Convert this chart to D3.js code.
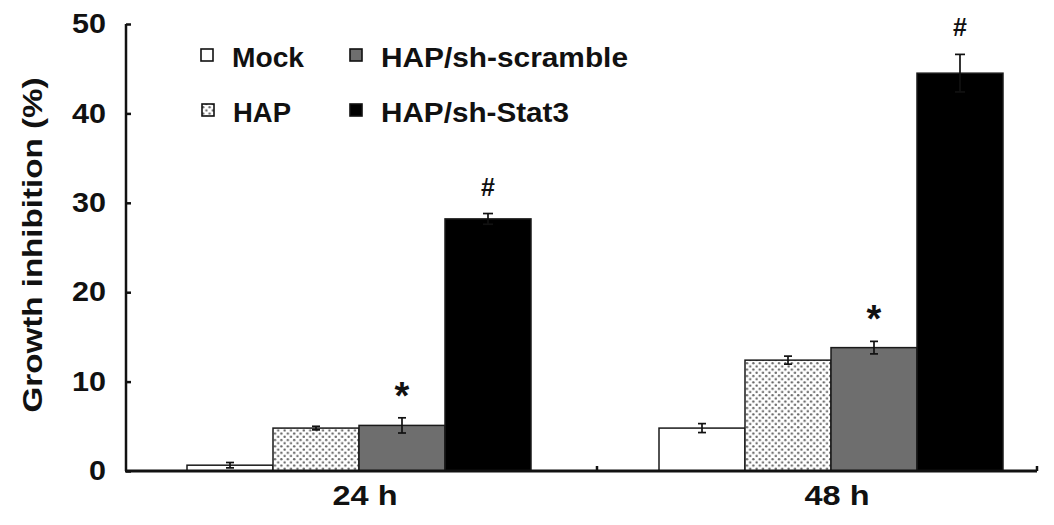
<!DOCTYPE html>
<html><head><meta charset="utf-8">
<script src="https://cdn.jsdelivr.net/npm/d3@7"></script>
<style>
html,body{margin:0;padding:0;background:#fff;overflow:hidden;}
svg{display:block;}
text{font-family:"Liberation Sans",Arial,sans-serif;font-weight:bold;fill:#111;}
</style></head>
<body>
<svg id="c" width="1054" height="525"></svg>
<script>
// ---- data ----
const categories = ["24 h", "48 h"];
const seriesNames = ["Mock", "HAP", "HAP/sh-scramble", "HAP/sh-Stat3"];
const mockValues = [0.65, 4.8];
const hapValues = [4.8, 12.4];
const scrambleValues = [5.1, 13.8];
const stat3Values = [28.2, 44.5];
const mockErr = [0.3, 0.5];
const hapErr = [0.2, 0.45];
const scrambleErr = [0.85, 0.7];
const stat3Err = [0.6, 2.1];
const scrambleMarks = ["*", "*"];
const stat3Marks = ["#", "#"];
const yTicks = [0, 10, 20, 30, 40, 50];
const yTitle = "Growth inhibition (%)";

const seriesValues = [mockValues, hapValues, scrambleValues, stat3Values];
const seriesErr = [mockErr, hapErr, scrambleErr, stat3Err];
const seriesMarks = [["",""], ["",""], scrambleMarks, stat3Marks];

// ---- layout ----
const svg = d3.select("#c");
const defs = svg.append("defs");
const pat = defs.append("pattern").attr("id","dots").attr("patternUnits","userSpaceOnUse")
  .attr("width",6.4).attr("height",6.4);
pat.append("rect").attr("width",6.4).attr("height",6.4).attr("fill","#fff");
pat.append("circle").attr("cx",1.6).attr("cy",1.6).attr("r",1.2).attr("fill","#666");
pat.append("circle").attr("cx",4.8).attr("cy",4.8).attr("r",1.2).attr("fill","#666");

const fills = ["#ffffff", "url(#dots)", "#6e6e6e", "#000000"];

const axisX = 126, axisY = 471, axisEnd = 1037;
const y = d3.scaleLinear().domain([0, 50]).range([axisY, 24]);
const x0 = d3.scaleBand().domain(categories).range([125, 1069]).paddingInner(0.2712).paddingOuter(0.1356);
const x1 = d3.scaleBand().domain(seriesNames).range([0, x0.bandwidth()]);

function stretch(sel, w) { sel.attr("textLength", w).attr("lengthAdjust","spacingAndGlyphs"); }

// bars
const groups = svg.append("g").selectAll("g").data(categories).join("g")
  .attr("transform", d => `translate(${x0(d) - 2},0)`);
seriesNames.forEach((s, si) => {
  groups.append("rect")
    .attr("x", (d) => x1(s))
    .attr("width", x1.bandwidth())
    .attr("y", (d, ci) => y(seriesValues[si][ci]))
    .attr("height", (d, ci) => axisY - y(seriesValues[si][ci]))
    .attr("fill", fills[si]).attr("stroke", "#1a1a1a").attr("stroke-width", 1.5);
});
// error bars
seriesNames.forEach((s, si) => {
  groups.each(function(d, ci) {
    const g = d3.select(this);
    const cx = x1(s) + x1.bandwidth() / 2;
    const v = seriesValues[si][ci], e = seriesErr[si][ci];
    const top = y(v + e), bot = y(v - e);
    const cw = si === 3 ? 5 : 4;
    g.append("line").attr("x1", cx).attr("x2", cx).attr("y1", top).attr("y2", bot)
      .attr("stroke", "#111").attr("stroke-width", 1.7);
    g.append("line").attr("x1", cx - cw).attr("x2", cx + cw).attr("y1", top).attr("y2", top)
      .attr("stroke", "#111").attr("stroke-width", 1.7);
    g.append("line").attr("x1", cx - cw).attr("x2", cx + cw).attr("y1", bot).attr("y2", bot)
      .attr("stroke", "#111").attr("stroke-width", 1.7);
    const m = seriesMarks[si][ci];
    if (m === "*") {
      g.append("text").attr("x", cx).attr("y", top - 9).attr("text-anchor","middle")
        .style("font-size","38px").text(m);
    } else if (m === "#") {
      g.append("text").attr("x", cx).attr("y", top - 18).attr("text-anchor","middle")
        .style("font-size","25px").text(m);
    }
  });
});

// y axis
const yAxis = d3.axisLeft(y).tickValues(yTicks).tickSize(-5).tickPadding(20).tickFormat(d3.format("d"));
const ya = svg.append("g").attr("transform", `translate(${axisX},0)`).call(yAxis);
ya.select(".domain").attr("stroke","#111").attr("stroke-width",2.5).attr("d", `M0,${y(50)}V${axisY}`);
ya.selectAll(".tick line").attr("stroke","#111").attr("stroke-width",2.5);
ya.selectAll(".tick text").style("font-size","27px").attr("fill","#111")
  .each(function(d){ stretch(d3.select(this), String(d).length * 17); });

// x axis
svg.append("line").attr("x1", axisX - 1).attr("x2", axisEnd).attr("y1", axisY).attr("y2", axisY)
  .attr("stroke","#111").attr("stroke-width",2.8);
const bounds = [x0.range()[0] + x0.step(), axisEnd];
svg.selectAll(".xt").data(bounds).join("line").attr("class","xt")
  .attr("x1", d => d).attr("x2", d => d).attr("y1", axisY).attr("y2", axisY - 5)
  .attr("stroke","#111").attr("stroke-width",2.5);
svg.selectAll(".xl").data(categories).join("text").attr("class","xl")
  .attr("x", d => x0(d) + x0.bandwidth()/2 + 4).attr("y", 505).attr("text-anchor","middle")
  .style("font-size","27px").text(d => d)
  .each(function(){ stretch(d3.select(this), 65); });

// y title
svg.append("text").attr("transform","translate(42,245) rotate(-90)").attr("text-anchor","middle")
  .style("font-size","27px").text(yTitle)
  .each(function(){ stretch(d3.select(this), 335); });

// legend
const legPos = [[207,55],[208,110],[356,55],[356,110]];
const legW = [72, 58, 247, 188];
seriesNames.forEach((s, i) => {
  const [lx, ly] = legPos[i];
  svg.append("rect").attr("x", lx - 6).attr("y", ly - 6).attr("width", 12).attr("height", 12)
    .attr("fill", fills[i]).attr("stroke","#111").attr("stroke-width",1.6);
  svg.append("text").attr("x", lx + 25).attr("y", ly + 12).style("font-size","27px").text(s)
    .each(function(){ stretch(d3.select(this), legW[i]); });
});
</script>
</body></html>
